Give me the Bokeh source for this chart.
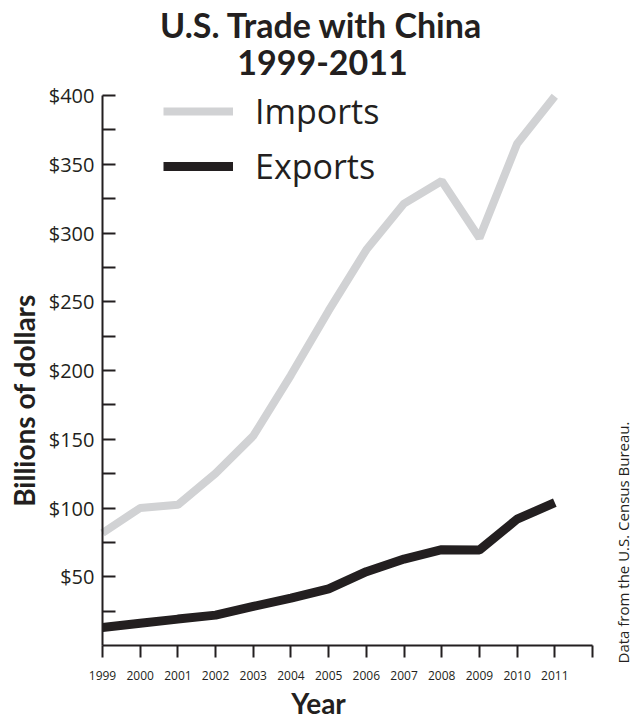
import math
from bokeh.plotting import figure
from bokeh.models import FixedTicker, Legend, LegendItem, Label, Range1d
from bokeh.embed import file_html
from bokeh.resources import INLINE

# ---- data (U.S. trade with China, billions of dollars) ----
years = [1999, 2000, 2001, 2002, 2003, 2004, 2005, 2006, 2007, 2008, 2009, 2010, 2011]
imports = [81.8, 100.0, 102.3, 125.2, 152.4, 196.7, 243.5, 287.8, 321.4, 337.8, 296.4, 364.9, 399.4]
exports = [13.1, 16.2, 19.2, 22.1, 28.4, 34.4, 41.2, 53.7, 62.9, 69.7, 69.5, 91.9, 103.9]

x_ticks = [1999, 2000, 2001, 2002, 2003, 2004, 2005, 2006, 2007, 2008, 2009, 2010, 2011, 2012]
x_tick_labels = ["1999", "2000", "2001", "2002", "2003", "2004", "2005", "2006",
                 "2007", "2008", "2009", "2010", "2011", ""]
y_ticks = [50, 100, 150, 200, 250, 300, 350, 400]
y_tick_labels = ["$50", "$100", "$150", "$200", "$250", "$300", "$350", "$400"]
y_minor_ticks = [25, 75, 125, 175, 225, 275, 325, 375]

INK = "#231f20"
GRAY = "#d1d2d4"

# ---- layout: the frame fills the canvas; axes sit at fixed locations ----
W, H = 636, 721
AX_LEFT, AX_RIGHT, AX_TOP, AX_BOTTOM = 102, 592, 95, 645   # pixel extent of the axes
X0, X1 = x_ticks[0], x_ticks[-1]
Y0, Y1 = 0, y_ticks[-1]
kx = (AX_RIGHT - AX_LEFT) / (X1 - X0)
ky = (AX_BOTTOM - AX_TOP) / (Y1 - Y0)
x_range = Range1d(X0 - AX_LEFT / kx, X1 + (W - AX_RIGHT) / kx)
y_range = Range1d(Y0 - (H - AX_BOTTOM) / ky, Y1 + AX_TOP / ky)


def dx(px):
    return x_range.start + px / kx


def dy(py):
    return y_range.end - py / ky


p = figure(width=W, height=H, x_range=x_range, y_range=y_range,
           output_backend="svg", toolbar_location=None, min_border=0)
p.outline_line_color = None
p.xgrid.visible = False
p.ygrid.visible = False
p.background_fill_color = "white"
p.border_fill_color = "white"

r_imp = p.line(years, imports, line_color=GRAY, line_width=8)
r_exp = p.line(years, exports, line_color=INK, line_width=9)

# y axis
ya = p.yaxis[0]
ya.fixed_location = X0
ya.bounds = (Y0, Y1)
ya.ticker = FixedTicker(ticks=y_ticks, minor_ticks=y_minor_ticks)
ya.major_label_overrides = {t: s for t, s in zip(y_ticks, y_tick_labels)}
ya.axis_line_color = INK
ya.axis_line_width = 2
ya.major_tick_line_color = INK
ya.major_tick_line_width = 2
ya.minor_tick_line_color = INK
ya.minor_tick_line_width = 2
ya.major_tick_in = 13
ya.major_tick_out = 0
ya.minor_tick_in = 13
ya.minor_tick_out = 0
ya.major_label_standoff = 8
ya.major_label_text_font = "Open Sans"
ya.major_label_text_font_size = "20px"
ya.major_label_text_color = INK

# x axis
xa = p.xaxis[0]
xa.fixed_location = Y0
xa.bounds = (X0, X1)
xa.ticker = FixedTicker(ticks=x_ticks)
xa.major_label_overrides = {t: s for t, s in zip(x_ticks, x_tick_labels)}
xa.axis_line_color = INK
xa.axis_line_width = 2
xa.major_tick_line_color = INK
xa.major_tick_line_width = 2
xa.major_tick_in = 0
xa.major_tick_out = 12
xa.minor_tick_line_color = None
xa.major_label_standoff = 13
xa.major_label_text_font = "Open Sans"
xa.major_label_text_font_size = "12px"
xa.major_label_text_color = INK

# legends (one per row so each row can be placed exactly)
for name, rend, row_center in (("Imports", r_imp, 111), ("Exports", r_exp, 166)):
    lg = Legend(items=[LegendItem(label=name, renderers=[rend])],
                location=(163, H - row_center - 25),
                orientation="vertical", padding=0, margin=0, spacing=0,
                glyph_width=70, glyph_height=50, label_height=50, label_standoff=22,
                label_text_font="Open Sans", label_text_font_size="34px",
                label_text_color=INK, label_text_baseline="middle",
                border_line_color=None, background_fill_alpha=0)
    p.add_layout(lg)

# texts
def bold_label(text, px, py, size, angle=0.0):
    return Label(x=dx(px), y=dy(py), text=text, angle=angle, text_align="center",
                 text_baseline="alphabetic", text_font="Lato", text_font_style="bold",
                 text_font_size=size, text_color=INK)


p.add_layout(bold_label("U.S. Trade with China", 321, 24, "34px"))
p.add_layout(bold_label("1999-2011", 322, 62, "34px"))
p.add_layout(bold_label("Billions of dollars", 23, 400, "28px", math.pi / 2))
p.add_layout(bold_label("Year", 318, 702, "28px"))
p.add_layout(Label(x=dx(622), y=dy(542), text="Data from the U.S. Census Bureau.",
                   angle=math.pi / 2, text_align="center", text_baseline="alphabetic",
                   text_font="Open Sans", text_font_size="15px", text_color=INK))

open("out.html", "w").write(file_html(p, INLINE))
